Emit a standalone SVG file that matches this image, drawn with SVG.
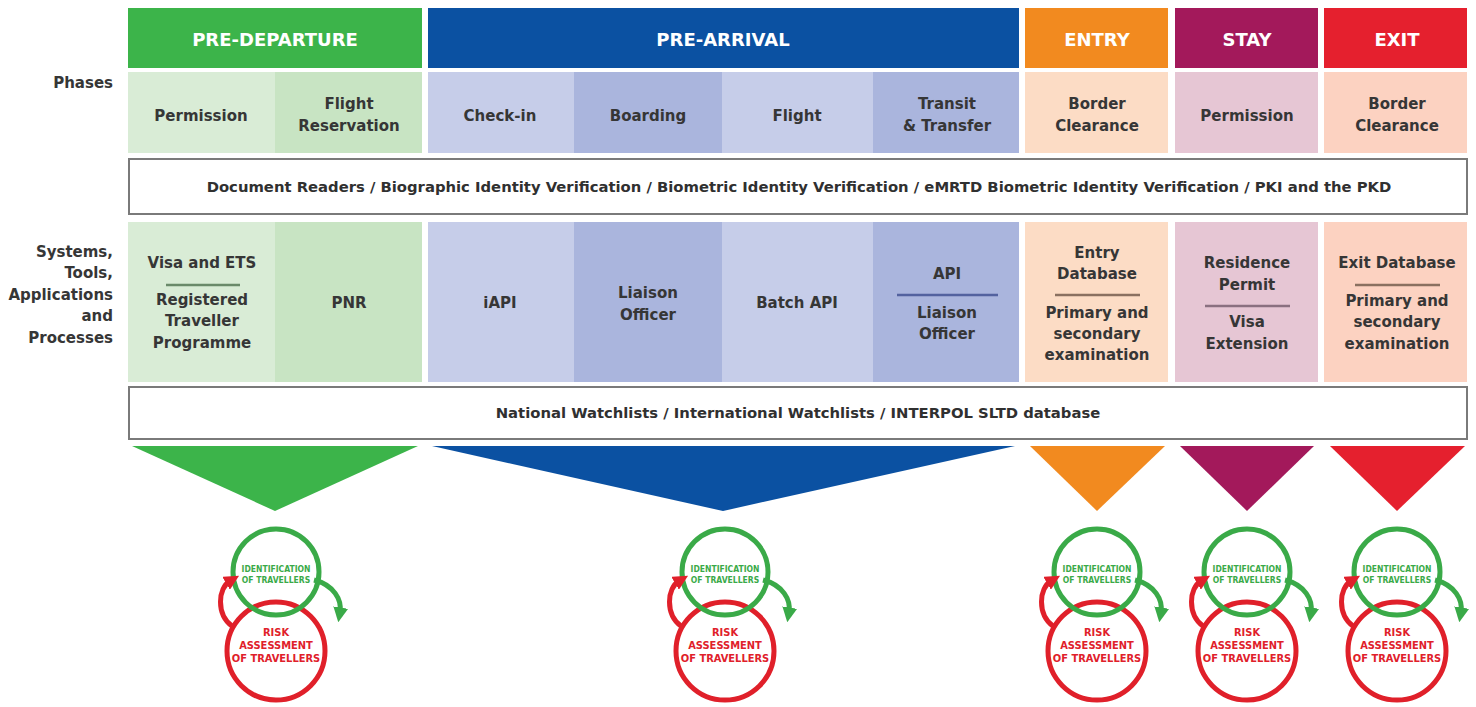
<svg xmlns="http://www.w3.org/2000/svg" width="1476" height="707" viewBox="0 0 1476 707">
<defs>
<style>
text{font-family:"DejaVu Sans","Liberation Sans",sans-serif;font-weight:bold;text-anchor:middle}
.hd{fill:#ffffff;font-size:18px}
.ph{fill:#363636;font-size:15px}
.lbl{fill:#363636;font-size:15px;text-anchor:end}
.bar{fill:#ffffff;stroke:#7a7a7a;stroke-width:2}
.bt{fill:#303030;font-size:14.8px}
.sep{stroke-width:2.5}
.gc{fill:none;stroke:#3aaa48;stroke-width:5}
.rc{fill:none;stroke:#e0202a;stroke-width:5}
.gt{fill:#3aaa48;font-size:8.5px;font-family:"DejaVu Sans Condensed","DejaVu Sans",sans-serif}
.rt{fill:#e0202a;font-size:11px;font-family:"DejaVu Sans Condensed","DejaVu Sans",sans-serif}
.ga{fill:none;stroke:#3aaa48;stroke-width:5}
.ra{fill:none;stroke:#e0202a;stroke-width:5}
</style>
<marker id="mg" viewBox="0 0 10 10" refX="3" refY="5" markerWidth="3" markerHeight="3" orient="auto"><path d="M0,0 L10,5 L0,10 z" fill="#3aaa48"/></marker>
<marker id="mr" viewBox="0 0 10 10" refX="3" refY="5" markerWidth="3" markerHeight="3" orient="auto"><path d="M0,0 L10,5 L0,10 z" fill="#e0202a"/></marker>
</defs>
<rect width="1476" height="707" fill="#ffffff"/>

<!-- left labels -->
<g id="labels">
<text class="lbl" x="113" y="88">Phases</text>
<text class="lbl" x="113" y="257">Systems,</text>
<text class="lbl" x="113" y="278">Tools,</text>
<text class="lbl" x="113" y="300">Applications</text>
<text class="lbl" x="113" y="321">and</text>
<text class="lbl" x="113" y="343">Processes</text>
</g>

<!-- headers -->
<g id="h-predeparture"><rect x="128" y="8" width="294" height="60" fill="#3cb44a"/><text class="hd" x="275" y="46">PRE-DEPARTURE</text></g>
<g id="h-prearrival"><rect x="428" y="8" width="591" height="60" fill="#0b51a2"/><text class="hd" x="723" y="46">PRE-ARRIVAL</text></g>
<g id="h-entry"><rect x="1025" y="8" width="143" height="60" fill="#f28a1f"/><text class="hd" x="1097" y="46">ENTRY</text></g>
<g id="h-stay"><rect x="1175" y="8" width="143" height="60" fill="#a3195b"/><text class="hd" x="1247" y="46">STAY</text></g>
<g id="h-exit"><rect x="1324" y="8" width="143" height="60" fill="#e5202e"/><text class="hd" x="1397" y="46">EXIT</text></g>

<!-- phases row -->
<g id="p-permission"><rect x="128" y="72" width="147" height="81" fill="#d9ecd6"/><text class="ph" x="201" y="121">Permission</text></g>
<g id="p-flightres"><rect x="275" y="72" width="147" height="81" fill="#c8e4c3"/><text class="ph" x="349" y="109">Flight</text><text class="ph" x="349" y="131">Reservation</text></g>
<g id="p-checkin"><rect x="428" y="72" width="146" height="81" fill="#c6cde9"/><text class="ph" x="500" y="121">Check-in</text></g>
<g id="p-boarding"><rect x="574" y="72" width="148" height="81" fill="#aab5dd"/><text class="ph" x="648" y="121">Boarding</text></g>
<g id="p-flight"><rect x="722" y="72" width="151" height="81" fill="#c6cde9"/><text class="ph" x="797" y="121">Flight</text></g>
<g id="p-transit"><rect x="873" y="72" width="146" height="81" fill="#aab5dd"/><text class="ph" x="947" y="109">Transit</text><text class="ph" x="947" y="131">&amp; Transfer</text></g>
<g id="p-border1"><rect x="1025" y="72" width="143" height="81" fill="#fcdcc5"/><text class="ph" x="1097" y="109">Border</text><text class="ph" x="1097" y="131">Clearance</text></g>
<g id="p-permission2"><rect x="1175" y="72" width="143" height="81" fill="#e6c6d4"/><text class="ph" x="1247" y="121">Permission</text></g>
<g id="p-border2"><rect x="1324" y="72" width="143" height="81" fill="#fcd2c1"/><text class="ph" x="1397" y="109">Border</text><text class="ph" x="1397" y="131">Clearance</text></g>

<!-- document readers bar -->
<g id="bar-docs"><rect class="bar" x="129" y="159" width="1338" height="55"/><text class="bt" x="799" y="192">Document Readers / Biographic Identity Verification / Biometric Identity Verification / eMRTD Biometric Identity Verification / PKI and the PKD</text></g>

<!-- systems row -->
<g id="s-visa"><rect x="128" y="222" width="147" height="160" fill="#d9ecd6"/>
<text class="ph" x="202" y="268">Visa and ETS</text>
<line class="sep" x1="166" y1="285" x2="240" y2="285" stroke="#6a8a6a"/>
<text class="ph" x="202" y="305">Registered</text><text class="ph" x="202" y="326">Traveller</text><text class="ph" x="202" y="348">Programme</text></g>
<g id="s-pnr"><rect x="275" y="222" width="147" height="160" fill="#c8e4c3"/><text class="ph" x="349" y="308">PNR</text></g>
<g id="s-iapi"><rect x="428" y="222" width="146" height="160" fill="#c6cde9"/><text class="ph" x="500" y="308">iAPI</text></g>
<g id="s-liaison"><rect x="574" y="222" width="148" height="160" fill="#aab5dd"/><text class="ph" x="648" y="298">Liaison</text><text class="ph" x="648" y="320">Officer</text></g>
<g id="s-batch"><rect x="722" y="222" width="151" height="160" fill="#c6cde9"/><text class="ph" x="797" y="308">Batch API</text></g>
<g id="s-api"><rect x="873" y="222" width="146" height="160" fill="#aab5dd"/>
<text class="ph" x="947" y="279">API</text>
<line class="sep" x1="897" y1="295" x2="998" y2="295" stroke="#53629f"/>
<text class="ph" x="947" y="318">Liaison</text><text class="ph" x="947" y="339">Officer</text></g>
<g id="s-entry"><rect x="1025" y="222" width="143" height="160" fill="#fcdcc5"/>
<text class="ph" x="1097" y="258">Entry</text><text class="ph" x="1097" y="279">Database</text>
<line class="sep" x1="1055" y1="295" x2="1140" y2="295" stroke="#8a7060"/>
<text class="ph" x="1097" y="318">Primary and</text><text class="ph" x="1097" y="339">secondary</text><text class="ph" x="1097" y="360">examination</text></g>
<g id="s-stay"><rect x="1175" y="222" width="143" height="160" fill="#e6c6d4"/>
<text class="ph" x="1247" y="268">Residence</text><text class="ph" x="1247" y="290">Permit</text>
<line class="sep" x1="1205" y1="306" x2="1290" y2="306" stroke="#8a7080"/>
<text class="ph" x="1247" y="327">Visa</text><text class="ph" x="1247" y="349">Extension</text></g>
<g id="s-exit"><rect x="1324" y="222" width="143" height="160" fill="#fcd2c1"/>
<text class="ph" x="1397" y="268">Exit Database</text>
<line class="sep" x1="1355" y1="285" x2="1440" y2="285" stroke="#8a7060"/>
<text class="ph" x="1397" y="306">Primary and</text><text class="ph" x="1397" y="327">secondary</text><text class="ph" x="1397" y="349">examination</text></g>

<!-- watchlists bar -->
<g id="bar-watch"><rect class="bar" x="129" y="387" width="1338" height="52"/><text class="bt" x="798" y="418">National Watchlists / International Watchlists / INTERPOL SLTD database</text></g>

<!-- funnels -->
<g id="funnels">
<polygon points="132,446 418,446 275,511" fill="#3cb44a"/>
<polygon points="432,446 1015,446 723,511" fill="#0b51a2"/>
<polygon points="1030,446 1165,446 1097,511" fill="#f28a1f"/>
<polygon points="1180,446 1314,446 1247,511" fill="#a3195b"/>
<polygon points="1330,446 1465,446 1397,511" fill="#e5202e"/>
</g>

<!-- cycles -->
<g id="cycle-1" transform="translate(276,0)">
<circle class="rc" cx="0" cy="651" r="49"/>
<circle class="gc" cx="0" cy="572" r="43"/>
<text class="gt" x="0" y="572">IDENTIFICATION</text><text class="gt" x="0" y="583">OF TRAVELLERS</text>
<text class="rt" x="0" y="636">RISK</text><text class="rt" x="0" y="649">ASSESSMENT</text><text class="rt" x="0" y="662">OF TRAVELLERS</text>
</g>
<g id="cycle-2" transform="translate(725,0)">
<circle class="rc" cx="0" cy="651" r="49"/>
<circle class="gc" cx="0" cy="572" r="43"/>
<text class="gt" x="0" y="572">IDENTIFICATION</text><text class="gt" x="0" y="583">OF TRAVELLERS</text>
<text class="rt" x="0" y="636">RISK</text><text class="rt" x="0" y="649">ASSESSMENT</text><text class="rt" x="0" y="662">OF TRAVELLERS</text>
</g>
<g id="cycle-3" transform="translate(1097,0)">
<circle class="rc" cx="0" cy="651" r="49"/>
<circle class="gc" cx="0" cy="572" r="43"/>
<text class="gt" x="0" y="572">IDENTIFICATION</text><text class="gt" x="0" y="583">OF TRAVELLERS</text>
<text class="rt" x="0" y="636">RISK</text><text class="rt" x="0" y="649">ASSESSMENT</text><text class="rt" x="0" y="662">OF TRAVELLERS</text>
</g>
<g id="cycle-4" transform="translate(1247,0)">
<circle class="rc" cx="0" cy="651" r="49"/>
<circle class="gc" cx="0" cy="572" r="43"/>
<text class="gt" x="0" y="572">IDENTIFICATION</text><text class="gt" x="0" y="583">OF TRAVELLERS</text>
<text class="rt" x="0" y="636">RISK</text><text class="rt" x="0" y="649">ASSESSMENT</text><text class="rt" x="0" y="662">OF TRAVELLERS</text>
</g>
<g id="cycle-5" transform="translate(1397,0)">
<circle class="rc" cx="0" cy="651" r="49"/>
<circle class="gc" cx="0" cy="572" r="43"/>
<text class="gt" x="0" y="572">IDENTIFICATION</text><text class="gt" x="0" y="583">OF TRAVELLERS</text>
<text class="rt" x="0" y="636">RISK</text><text class="rt" x="0" y="649">ASSESSMENT</text><text class="rt" x="0" y="662">OF TRAVELLERS</text>
</g>

<!-- connectors: cycle arrows -->
<g id="connectors">
<path class="ra" d="M-44,626 C-60,614 -58,588 -46,581" marker-end="url(#mr)" transform="translate(276,0)"/>
<path class="ga" d="M38,580 C58,585 66,600 64,612" marker-end="url(#mg)" transform="translate(276,0)"/>
<path class="ra" d="M-44,626 C-60,614 -58,588 -46,581" marker-end="url(#mr)" transform="translate(725,0)"/>
<path class="ga" d="M38,580 C58,585 66,600 64,612" marker-end="url(#mg)" transform="translate(725,0)"/>
<path class="ra" d="M-44,626 C-60,614 -58,588 -46,581" marker-end="url(#mr)" transform="translate(1097,0)"/>
<path class="ga" d="M38,580 C58,585 66,600 64,612" marker-end="url(#mg)" transform="translate(1097,0)"/>
<path class="ra" d="M-44,626 C-60,614 -58,588 -46,581" marker-end="url(#mr)" transform="translate(1247,0)"/>
<path class="ga" d="M38,580 C58,585 66,600 64,612" marker-end="url(#mg)" transform="translate(1247,0)"/>
<path class="ra" d="M-44,626 C-60,614 -58,588 -46,581" marker-end="url(#mr)" transform="translate(1397,0)"/>
<path class="ga" d="M38,580 C58,585 66,600 64,612" marker-end="url(#mg)" transform="translate(1397,0)"/>
</g>
</svg>
